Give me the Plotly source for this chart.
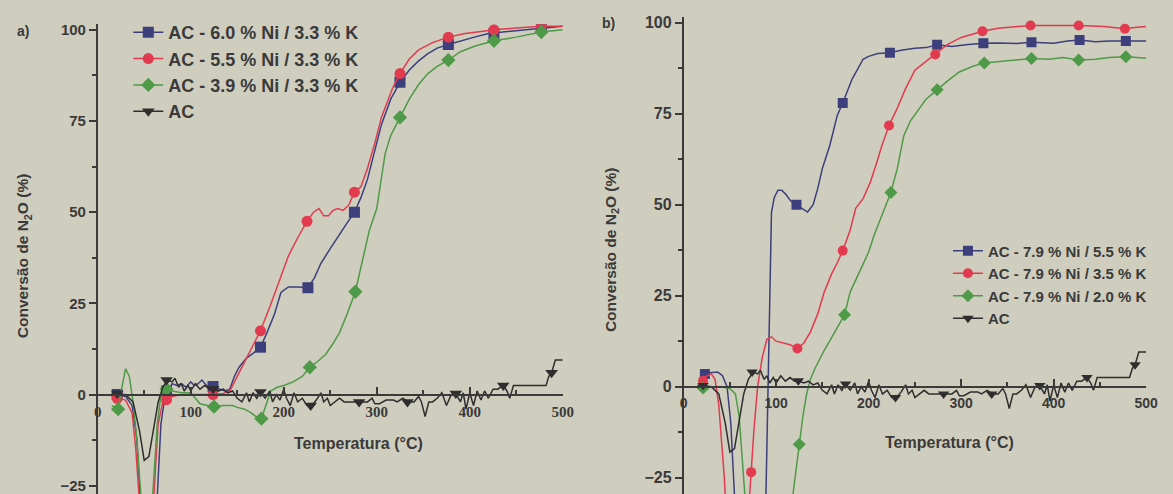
import plotly.graph_objects as go

# ---------------- data: panel a) ----------------
a_blue_T = [15, 21, 30, 37, 42, 46, 50, 60, 64, 68, 72, 76, 80, 85, 90, 95, 100, 104, 108, 112, 117, 123, 130, 137, 142, 147, 152, 160, 168, 175, 182, 190, 197, 205, 215, 226, 233, 240, 250, 260, 268, 276, 283, 290, 297, 305, 315, 325, 335, 345, 355, 365, 377, 390, 405, 420, 440, 460, 477, 490, 500]
a_blue_V = [0, 0, -0.5, -3, -12, -30, -40, -40, -28, -8, -1, 1, 3, 2.5, 3, 2, 3.5, 2.5, 3, 4, 2.5, 2.2, 1.5, 1, 1.5, 5, 7.5, 10, 11.5, 13, 17, 22, 28, 29.5, 29.5, 29.3, 32, 36, 40, 44, 47, 50, 54, 59, 66, 74, 81, 85.6, 89, 91.5, 93.5, 95, 96, 97, 98, 99, 99.5, 100, 100.5, 100.8, 101]
a_blue_mT = [21, 74, 124, 175, 226, 276, 325, 377, 426, 477]
a_blue_mV = [0, 1, 2.2, 13, 29.3, 50, 85.6, 96, 99, 100.5]

a_red_T = [15, 21, 30, 37, 41, 45, 50, 58, 61, 65, 70, 74, 80, 90, 100, 110, 124, 135, 142, 150, 160, 168, 175, 185, 195, 205, 215, 225, 232, 238, 243, 248, 253, 258, 264, 270, 276, 283, 290, 298, 305, 317, 325, 335, 345, 360, 377, 395, 410, 426, 450, 477, 500]
a_red_V = [-0.5, -1, -1.5, -5, -15, -30, -40, -40, -25, -8, -2, -1.4, -0.5, 0, 0, 0, 0, 0.3, 1, 5, 10, 14, 17.5, 24, 31, 38, 43, 47.5, 50, 51, 49, 49, 50.5, 51, 50.5, 52, 55.5, 57, 62, 69, 76, 84, 88, 92, 94.5, 96.5, 98, 99, 99.5, 100, 100.5, 101, 101]
a_red_mT = [21, 74, 124, 175, 225, 276, 325, 377, 426, 477]
a_red_mV = [-1, -1.4, 0, 17.5, 47.5, 55.5, 88, 98, 100, 101]

a_green_T = [15, 22, 26, 30, 34, 38, 42, 46, 50, 56, 60, 64, 68, 74, 80, 90, 100, 105, 110, 118, 125, 135, 145, 150, 158, 165, 170, 176, 181, 186, 193, 200, 210, 220, 228, 236, 245, 253, 260, 268, 277, 284, 292, 300, 305, 309, 315, 325, 335, 345, 355, 365, 377, 390, 405, 426, 450, 477, 500]
a_green_V = [-3, -4, 2, 7.1, 5, -2, -12, -28, -40, -40, -25, -8, 0, 1.5, 1, 0.5, 0.5, -1, -2.5, -3, -3.3, -3, -3, -3.5, -4, -5, -6, -6.6, -3, 1, 2, 2.5, 3.5, 5, 7.5, 9, 11, 14, 17, 22, 28.2, 36, 45, 51, 60, 66, 71, 76, 81, 85, 88, 90, 91.7, 94, 95.5, 97, 98, 99.4, 100]
a_green_mT = [22, 74, 125, 176, 228, 277, 325, 377, 426, 477]
a_green_mV = [-4, 1.5, -3.3, -6.6, 7.5, 28.2, 76, 91.7, 97, 99.4]

# ---------------- data: AC (both panels) ----------------
ac_T = [15, 21, 30, 38, 45, 50, 55, 60, 65, 70, 75, 80, 83, 87, 90, 93, 97, 100, 105, 110, 115, 120, 124, 130, 135, 140, 145, 150, 155, 160, 163, 167, 171, 175, 180, 185, 188, 192, 196, 200, 203, 207, 211, 215, 220, 225, 230, 235, 240, 243, 247, 250, 255, 260, 265, 270, 275, 282, 290, 295, 298, 303, 310, 318, 322, 328, 334, 340, 345, 348, 352, 356, 360, 365, 370, 375, 380, 385, 390, 393, 396, 400, 404, 408, 412, 416, 420, 425, 430, 436, 440, 443, 447, 455, 465, 475, 482, 485, 488, 492, 500]
ac_V = [0.3, 0.3, 0, -2, -10, -18, -17, -10, -2, 2, 4, 3.5, 4.5, 2, 3, 1, 2.5, 1, 3, 1.5, 2.5, 1.5, 1.6, 1, 1.5, 0.5, 1, -1, -2, 0.5, -2, 0.5, -1, 0.7, -1, 1, -2, 0, -1.5, 1.5, -1, -3, 0.5, -2, -1, -3, -3, -1.5, 0.5, -2, -1, -3, -2, -1, -2, -2, -2, -2, -2, -1, -2.5, -2.5, -1.5, -1.5, -2, -1, -2, -2, -0.5, -2, -6, -2, -2, -1, 0.5, -3, 0, 0.3, -2, 0.5, -4, 0.5, -3, 1, -1.5, 1, -1, 1.5, 1.5, 2.5, 1, -1, 2.5, 2.5, 2.5, 2.5, 2.5, 5, 6, 9.5, 9.5]
ac_mT = [21, 74, 124, 175, 229, 281, 333, 385, 436, 488]
ac_mV = [0.3, 4, 1.6, 0.7, -3, -2, -2, 0.3, 2.5, 6]

# ---------------- data: panel b) ----------------
b_blue_T = [20, 23, 28, 33, 37, 42, 47, 51, 54, 57, 70, 86, 89, 91, 93, 95, 98, 102, 106, 110, 116, 122, 128, 134, 140, 145, 150, 158, 166, 172, 182, 194, 200, 210, 223, 235, 250, 262, 274, 290, 305, 324, 340, 360, 376, 400, 415, 428, 445, 460, 478, 500]
b_blue_V = [2.5, 3.5, 3.8, 4, 4, 3, 0, -10, -25, -40, -60, -60, -30, 0, 30, 48, 52, 54, 54, 53, 51, 50, 49, 48, 50, 54.5, 60, 66.3, 74.5, 78, 84.5, 90, 90.8, 91.6, 91.8, 92.5, 93, 93.2, 94, 93.5, 94, 94.4, 94.5, 94.3, 94.7, 94.4, 95, 95.3, 94.8, 95, 95, 95]
b_blue_mT = [23, 122, 172, 223, 274, 324, 376, 428, 478]
b_blue_mV = [3.5, 50, 78, 91.8, 94, 94.4, 94.7, 95.3, 95]

b_red_T = [18, 21, 25, 30, 34, 38, 41, 44, 47, 55, 65, 70, 73, 76, 80, 85, 90, 95, 100, 108, 115, 123, 130, 137, 145, 152, 160, 166, 172, 180, 186, 194, 202, 208, 214, 222, 230, 240, 250, 260, 272, 285, 300, 312, 323, 340, 360, 375, 400, 427, 455, 470, 477, 490, 500]
b_red_V = [0.5, 1.6, 3, 3.5, 2, -5, -15, -25, -40, -50, -50, -35, -23.5, -12, 0, 8, 13, 13.7, 12.5, 12, 11.5, 10.5, 12, 15, 20, 26, 31, 34, 37.4, 43, 49, 51.7, 56.3, 61, 66, 71.8, 76, 82, 87, 89, 91.3, 94, 96, 97, 97.7, 98.5, 99, 99.3, 99.3, 99.3, 99, 98.5, 98.4, 98.8, 99]
b_red_mT = [21, 73, 123, 172, 222, 272, 323, 375, 427, 477]
b_red_mV = [1.6, -23.5, 10.5, 37.4, 71.8, 91.3, 97.7, 99.3, 99.3, 98.4]

b_green_T = [18, 21, 30, 40, 50, 56, 60, 64, 68, 72, 90, 110, 119, 122, 125, 129, 133, 137, 142, 146, 152, 158, 166, 174, 180, 187, 194, 200, 206, 214, 224, 231, 238, 245, 252, 262, 274, 285, 298, 312, 325, 345, 360, 376, 395, 410, 427, 445, 460, 478, 490, 500]
b_green_V = [0, -0.4, 0, 0, -0.5, -2, -8, -20, -35, -50, -60, -50, -28, -22, -15.8, -8, -2, 2, 5, 7.1, 10, 12.6, 16.2, 19.8, 26, 30, 33.5, 37, 41.7, 47, 53.4, 60, 69, 73, 75.5, 79, 81.6, 84, 86.5, 88, 89, 89.5, 90, 90.2, 90, 90.5, 89.8, 90, 90.5, 90.7, 90.5, 90.3]
b_green_mT = [21, 125, 174, 224, 274, 325, 376, 427, 478]
b_green_mV = [-0.4, -15.8, 19.8, 53.4, 81.6, 89, 90.2, 89.8, 90.7]

a_names = ["AC - 6.0 % Ni / 3.3 % K", "AC - 5.5 % Ni / 3.3 % K", "AC - 3.9 % Ni / 3.3 % K", "AC"]
b_names = ["AC - 7.9 % Ni / 5.5 % K", "AC - 7.9 % Ni / 3.5 % K", "AC - 7.9 % Ni / 2.0 % K", "AC"]
x_ticks = [0, 100, 200, 300, 400, 500]
y_ticks = [-25, 0, 25, 50, 75, 100]

# ---------------- styling ----------------
W, H = 1173, 494
BG = "#cfcdbe"
INK = "#3a3a3a"
COLORS = ["#3c3f7c", "#e23a4e", "#4f9a48", "#2e2e2e"]
SYMBOLS = ["square", "circle", "diamond", "triangle-down"]
SANS = "Liberation Sans, Arial, sans-serif"
SERIF = "Liberation Serif, Times New Roman, serif"

# pixel geometry of the two panels
A_x0, A_x1, A_y0px, A_ppu = 95, 566.5, 394, 3.67
B_x0, B_x1, B_y0px, B_ppu = 689, 1158, 386, 3.66
YTOP = 101.5

def panel_geom(y0px, ppu):
    ymin = -(H - y0px) / ppu
    top_px = y0px - YTOP * ppu
    dom_top = (H - top_px) / H
    zero_frac = (H - y0px) / H
    return ymin, dom_top, zero_frac

A_ymin, A_top, A_zero = panel_geom(A_y0px, A_ppu)
B_ymin, B_top, B_zero = panel_geom(B_y0px, B_ppu)

fig = go.Figure()

panels = [
    ("x", "y", "legend", a_names, [(a_blue_T, a_blue_V, a_blue_mT, a_blue_mV),
                                   (a_red_T, a_red_V, a_red_mT, a_red_mV),
                                   (a_green_T, a_green_V, a_green_mT, a_green_mV),
                                   (ac_T, ac_V, ac_mT, ac_mV)], 11),
    ("x2", "y2", "legend2", b_names, [(b_blue_T, b_blue_V, b_blue_mT, b_blue_mV),
                                      (b_red_T, b_red_V, b_red_mT, b_red_mV),
                                      (b_green_T, b_green_V, b_green_mT, b_green_mV),
                                      (ac_T, ac_V, ac_mT, ac_mV)], 10),
]

for xa, ya, leg, names, series, msize in panels:
    for i, (T, V, mT, mV) in enumerate(series):
        c = COLORS[i]
        fig.add_trace(go.Scatter(x=T, y=V, mode="lines", xaxis=xa, yaxis=ya,
                                 line=dict(color=c, width=1.5), showlegend=False,
                                 hoverinfo="skip"))
        fig.add_trace(go.Scatter(x=mT, y=mV, mode="markers", xaxis=xa, yaxis=ya,
                                 marker=dict(color=c, symbol=SYMBOLS[i], size=msize),
                                 showlegend=False))
    for i, name in enumerate(names):
        fig.add_trace(go.Scatter(x=[None], y=[None], mode="lines+markers", name=name,
                                 xaxis=xa, yaxis=ya, legend=leg,
                                 line=dict(color=COLORS[i], width=1.5),
                                 marker=dict(color=COLORS[i], symbol=SYMBOLS[i], size=msize)))

def yaxis_cfg(dom_top, ymin, anchor, fsize):
    return dict(domain=[0, dom_top], range=[ymin, YTOP], anchor=anchor,
                tickvals=y_ticks, ticks="outside", ticklen=7, tickwidth=1.5, tickcolor=INK,
                minor=dict(tickvals=[-12.5, 12.5, 37.5, 62.5, 87.5], ticks="outside",
                           ticklen=4, tickwidth=1.5, tickcolor=INK),
                showline=True, linecolor=INK, linewidth=1.5, showgrid=False, zeroline=False,
                ticklabeloverflow="allow",
                tickfont=dict(family=SANS, size=fsize, color=INK, weight="bold"))

def xaxis_cfg(x0, x1, zero, font):
    return dict(domain=[x0 / W, x1 / W], range=[0, 500], anchor="free", position=zero,
                tickvals=x_ticks, ticks="inside", ticklen=7, tickwidth=1.5, tickcolor=INK,
                minor=dict(tickvals=[50, 150, 250, 350, 450], ticks="inside",
                           ticklen=4, tickwidth=1.5, tickcolor=INK),
                showline=True, linecolor=INK, linewidth=1.5, showgrid=False, zeroline=False,
                ticklabelstandoff=4, ticklabeloverflow="allow", tickfont=font)

legend_common = dict(bgcolor="rgba(0,0,0,0)", borderwidth=0, yanchor="top", tracegroupgap=0)

fig.update_layout(
    width=W, height=H, margin=dict(l=0, r=0, t=0, b=0),
    paper_bgcolor=BG, plot_bgcolor=BG,
    xaxis=xaxis_cfg(A_x0, A_x1, A_zero, dict(family=SERIF, size=15, color=INK, weight="bold")),
    yaxis=yaxis_cfg(A_top, A_ymin, "x", 15),
    xaxis2=xaxis_cfg(B_x0, B_x1, B_zero, dict(family=SANS, size=14, color=INK, weight="bold")),
    yaxis2=yaxis_cfg(B_top, B_ymin, "x2", 16),
    legend=dict(x=126 / W, y=1 - 11 / H, xanchor="left",
                font=dict(family=SANS, size=18, color=INK, weight="bold"), **legend_common),
    legend2=dict(x=957 / W, y=1 - 233 / H, xanchor="left",
                 font=dict(family=SANS, size=15, color=INK, weight="bold"), **legend_common),
)

def ann(text, xpx, ypx, size, angle=0):
    fig.add_annotation(text=text, x=xpx / W, y=1 - ypx / H, xref="paper", yref="paper",
                       showarrow=False, textangle=angle, xanchor="center", yanchor="middle",
                       font=dict(family=SANS, size=size, color=INK, weight="bold"))

ann("Conversão de N<sub>2</sub>O (%)", 20, 254, 15.5, -90)
ann("Conversão de N<sub>2</sub>O (%)", 616, 248, 15.5, -90)
ann("Temperatura (°C)", 359, 443, 16)
ann("Temperatura (°C)", 959, 442, 16)
ann("a)", 19, 28, 14)
ann("b)", 613, 20, 14)

fig.write_html("out.html")
